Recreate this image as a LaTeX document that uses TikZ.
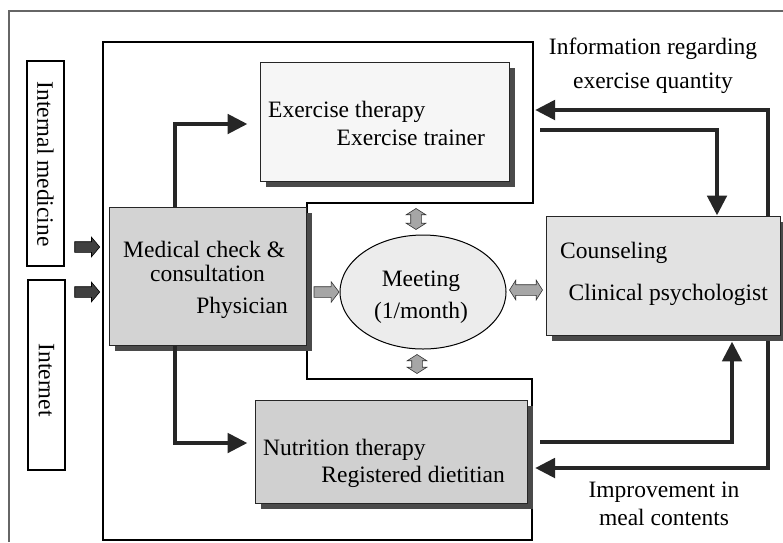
\documentclass[tikz,border=0pt]{standalone}
\usepackage{fontspec}
\setmainfont{Liberation Serif}
\usetikzlibrary{arrows.meta,shapes.geometric,shapes.arrows,shadows,calc}
\definecolor{exfill}{HTML}{F6F6F6}
\definecolor{medfill}{HTML}{D3D3D3}
\definecolor{nutfill}{HTML}{D0D0D0}
\definecolor{coufill}{HTML}{E2E2E2}
\definecolor{meetfill}{HTML}{ECECEC}
\definecolor{shade}{HTML}{4A4A4A}
\begin{document}
\begin{tikzpicture}[x=1pt,y=-1pt,
  txt/.style={font=\fontsize{23.5}{26}\selectfont, inner sep=0pt},
  box/.style={draw=black!85, line width=0.9pt, inner sep=0pt,
    drop shadow={shadow xshift=6pt, shadow yshift=-6pt, fill=shade, opacity=1}},
  sidebox/.style={draw=black, line width=1.3pt, fill=white, inner sep=0pt},
  frame/.style={draw=black, line width=1.8pt},
  conn/.style={line width=4.8pt, draw=black!85, -{Triangle[length=20pt,width=19pt]}},
  garrow/.style={single arrow, draw=black!80, fill=black!35, line width=0.6pt,
    inner sep=0pt, inner ysep=5pt, single arrow head extend=5pt,
    single arrow tip angle=105, minimum height=25pt},
  dgarrow/.style={double arrow, draw=black!80, fill=black!35, line width=0.6pt,
    inner sep=0pt, inner ysep=5pt, double arrow head extend=4.5pt,
    double arrow tip angle=115, minimum height=#1},
  karrow/.style={single arrow, draw=black, fill=black!75, line width=0.6pt,
    inner sep=0pt, inner ysep=5pt, single arrow head extend=4.5pt,
    single arrow tip angle=100, minimum height=25pt}
]
\useasboundingbox (0,0) rectangle (783,542);
\fill[white] (0,0) rectangle (783,542);

% outer frame
\draw[black!60, line width=1.2pt] (9,542) -- (9,11) -- (783,11);

% inner frame
\draw[frame] (103,42) -- (533,42) -- (533,203) -- (307,203) -- (307,379)
  -- (532,379) -- (532,540) -- (103,540) -- cycle;

% side boxes
\node[sidebox, minimum width=37pt, minimum height=205pt] (im) at (45.5,163.5) {};
\node[txt, rotate=-90] at (45.5,164) {Internal medicine};
\node[sidebox, minimum width=37pt, minimum height=190pt] (inet) at (46.5,375) {};
\node[txt, rotate=-90] at (46.5,380) {Internet};

% main boxes
\node[box, fill=medfill, minimum width=197pt, minimum height=138pt] (med) at (207.5,276) {};
\node[box, fill=exfill, minimum width=249pt, minimum height=119pt] (ex) at (384.5,121.5) {};
\node[box, fill=nutfill, minimum width=272pt, minimum height=103pt] (nut) at (391,451.5) {};
\node[box, fill=coufill, minimum width=234pt, minimum height=119pt] (cou) at (663,275.5) {};
\node[ellipse, draw=black, line width=1pt, fill=meetfill, minimum width=166pt,
  minimum height=114pt, inner sep=0pt] (meet) at (423,292) {};

% texts
\node[txt, anchor=base west] at (268,117) {Exercise therapy};
\node[txt, anchor=base east] at (485,145) {Exercise trainer};
\node[txt, anchor=base west] at (123,257) {Medical check \&};
\node[txt, anchor=base] at (207.5,281) {consultation};
\node[txt, anchor=base east] at (288,313) {Physician};
\node[txt, anchor=base] at (421,286) {Meeting};
\node[txt, anchor=base] at (421,318) {(1/month)};
\node[txt, anchor=base west] at (560,258) {Counseling};
\node[txt, anchor=base east] at (768,300) {Clinical psychologist};
\node[txt, anchor=base west] at (263,455) {Nutrition therapy};
\node[txt, anchor=base east] at (505,482) {Registered dietitian};
\node[txt, anchor=base] (lab1) at (653,54) {Information regarding};
\node[txt, anchor=base] (lab2) at (653,88) {exercise quantity};
\node[txt, anchor=base] (lab3) at (664,497) {Improvement in};
\node[txt, anchor=base] (lab4) at (664,525) {meal contents};

% dark input arrows
\node[karrow] (k1) at (85,247) {};
\node[karrow] (k2) at (85,292) {};

% gray arrows
\node[garrow] (g1) at ($(meet.west)+(-15,0)$) {};
\node[dgarrow=33pt] (g2) at (526,290) {};
\node[dgarrow=21pt, rotate=90] (g3) at (416,219) {};
\node[dgarrow=19pt, rotate=90] (g4) at (417,364) {};

% connectors
\coordinate (mx) at (175,0);
\coordinate (c1) at (768,0);
\coordinate (c2) at (717,0);
\coordinate (c3) at (732,0);
\coordinate (t1) at (535,110);
\coordinate (s2) at (540,130);
\coordinate (s3) at (540,442);
\coordinate (t4) at (535,468);

\draw[conn] (med.north -| mx) |- ([xshift=-12pt,yshift=-2.5pt]ex.west);
\draw[conn] (med.south -| mx) |- ([xshift=-7pt,yshift=8.5pt]nut.west);
\draw[conn] (cou.north -| c1) |- (t1);
\draw[conn] (s2) -| (cou.north -| c2);
\draw[conn] (s3) -| ([yshift=-6pt]cou.south -| c3);
\draw[conn] ([yshift=-6pt]cou.south -| c1) |- (t4);
\end{tikzpicture}
\end{document}
